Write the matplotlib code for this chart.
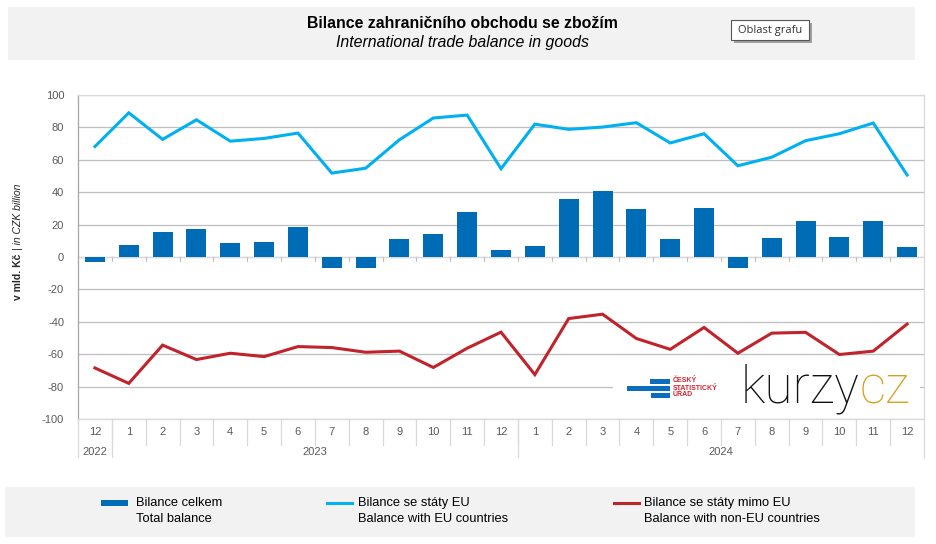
import matplotlib
matplotlib.use('Agg')
import matplotlib.pyplot as plt
from matplotlib.patches import Rectangle
from matplotlib.transforms import blended_transform_factory
import numpy as np

plt.rcParams['font.family'] = ['Liberation Sans', 'DejaVu Sans']
plt.rcParams['axes.unicode_minus'] = False

# data
months = ['12', '1', '2', '3', '4', '5', '6', '7', '8', '9', '10', '11', '12',
          '1', '2', '3', '4', '5', '6', '7', '8', '9', '10', '11', '12']
years = ['2022', '2023', '2024']
year_len = [1, 12, 12]

total = [-3.2, 7.6, 15.2, 17.0, 8.8, 9.5, 18.3, -6.9, -6.9, 11.4, 13.9, 27.8, 4.4,
         6.5, 36.0, 40.5, 29.7, 11.4, 30.3, -6.9, 12.0, 22.0, 12.6, 22.0, 6.3]
eu = [68.2, 89.0, 72.6, 84.7, 71.5, 73.2, 76.5, 51.8, 54.8, 72.4, 85.8, 87.6, 54.5,
      82.0, 78.8, 80.2, 82.9, 70.4, 76.1, 56.3, 61.6, 71.8, 76.1, 82.7, 50.6]
non_eu = [-68.5, -78.0, -54.4, -63.3, -59.4, -61.5, -55.3, -55.9, -58.8, -58.1, -68.2, -56.3, -46.4,
          -72.6, -38.0, -35.3, -50.3, -57.0, -43.5, -59.4, -47.0, -46.5, -60.2, -58.1, -41.4]

W, H = 937, 544
fig = plt.figure(figsize=(W / 100, H / 100), dpi=100)


def fx(x):
    return x / W


def fy(y):
    return 1 - y / H


# title box
fig.patches.append(Rectangle((fx(8), fy(60)), fx(915 - 8), (60 - 7) / H,
                             transform=fig.transFigure, facecolor='#f2f2f2', edgecolor='none'))
fig.text(fx(462), fy(24), 'Bilance zahraničního obchodu se zbožím', ha='center', va='center',
         fontsize=11.4, fontweight='bold', color='black')
fig.text(fx(463), fy(43), 'International trade balance in goods', ha='center', va='center',
         fontsize=11.4, style='italic', color='black')

# "Oblast grafu" tooltip
fig.patches.append(Rectangle((fx(734), fy(43)), fx(78), 20 / H, transform=fig.transFigure,
                             facecolor='#a0a0a0', edgecolor='none'))
fig.patches.append(Rectangle((fx(731), fy(40)), fx(78), 20 / H, transform=fig.transFigure,
                             facecolor='white', edgecolor='#555555', linewidth=0.8))
fig.text(fx(770), fy(30), 'Oblast grafu', ha='center', va='center', fontsize=8,
         family=['Open Sans', 'DejaVu Sans'], color='#333333')

# legend box
fig.patches.append(Rectangle((fx(5), fy(537)), fx(910), (537 - 487) / H,
                             transform=fig.transFigure, facecolor='#f2f2f2', edgecolor='none'))

ax = fig.add_axes([fx(78), fy(419), fx(924 - 78), (419 - 95) / H])
x = np.arange(len(months))

ax.bar(x, total, width=0.59, color='#006cb5', zorder=3)
ax.plot(x, eu, color='#00b0f0', linewidth=2.2, zorder=4, solid_joinstyle='miter')
ax.plot(x, non_eu, color='#c0232b', linewidth=2.2, zorder=4, solid_joinstyle='miter')

ax.set_xlim(-0.5, len(months) - 0.5)
ax.set_ylim(-100, 100)
ax.set_yticks(np.arange(-100, 101, 20))
ax.yaxis.grid(True, color='#bfbfbf', linewidth=0.9, zorder=0)
ax.set_axisbelow(True)
ax.tick_params(axis='y', length=0, labelsize=8, labelcolor='#595959', pad=10)
ax.set_xticks([])
for s in ['top', 'right']:
    ax.spines[s].set_color('#d9d9d9')
ax.spines['left'].set_color('#a6a6a6')
ax.spines['bottom'].set_color('#d9d9d9')
for s in ax.spines.values():
    s.set_linewidth(0.9)

# zero axis with small ticks
ax.axhline(0, color='#d9d9d9', linewidth=0.9, zorder=2)
tr = blended_transform_factory(ax.transData, ax.transAxes)
for i in range(1, len(months)):
    ax.plot([i - 0.5, i - 0.5], [0.5, 0.488], transform=tr, color='#bfbfbf', lw=0.8, clip_on=False, zorder=2)

# category axis below
sep_m = 26 / 324
sep_y = 38 / 324
for i, m in enumerate(months):
    ax.text(i, -13 / 324, m, transform=tr, ha='center', va='center', fontsize=8, color='#595959')
for i in range(1, len(months)):
    ax.plot([i - 0.5, i - 0.5], [0, -sep_m], transform=tr, color='#d9d9d9', lw=0.9, clip_on=False)
start = 0
bounds = [-0.5]
for yname, n in zip(years, year_len):
    ax.text(start + (n - 1) / 2, -33 / 324, yname, transform=tr, ha='center', va='center',
            fontsize=8, color='#595959')
    start += n
    bounds.append(start - 0.5)
for b in bounds:
    ax.plot([b, b], [0, -sep_y], transform=tr, color='#d9d9d9', lw=0.9, clip_on=False)

# logo area (white patch hides the grid behind the logos)
ax.add_patch(Rectangle((fx(613), fy(412)), fx(920 - 613), 50 / H, transform=fig.transFigure,
                       facecolor='white', edgecolor='none', zorder=1))
fig.patches.append(Rectangle((fx(650), fy(384)), fx(20), 5 / H, transform=fig.transFigure,
                             facecolor='#0a6ebd', edgecolor='none', zorder=5))
fig.patches.append(Rectangle((fx(627), fy(391)), fx(43), 5 / H, transform=fig.transFigure,
                             facecolor='#0a6ebd', edgecolor='none', zorder=5))
fig.patches.append(Rectangle((fx(651), fy(398)), fx(19), 5 / H, transform=fig.transFigure,
                             facecolor='#0a6ebd', edgecolor='none', zorder=5))
fig.text(fx(673), fy(388), 'ČESKÝ\nSTATISTICKÝ\nÚŘAD', ha='left', va='center', fontsize=5,
         fontweight='bold', color='#d7252f', linespacing=1.0, zorder=6)
tk = fig.text(fx(741), fy(403), 'kurzy', ha='left', va='baseline', fontsize=37,
              family=['Roboto', 'DejaVu Sans'], fontweight='light', color='#111111', zorder=6)

# y label
yb = fig.text(fx(18), fy(300), 'v mld. Kč', rotation=90, rotation_mode='anchor', ha='left', va='center',
              fontsize=7.5, fontweight='bold', color='#262626')

fig.canvas.draw()
bb = tk.get_window_extent()
fig.text(bb.x1 / W, fy(403), 'cz', ha='left', va='baseline', fontsize=37,
         family=['Roboto', 'DejaVu Sans'], fontweight='light', color='#d4a21f', zorder=6)
bl = yb.get_window_extent()
fig.text(fx(18), (bl.y1 + 4) / H, '| in CZK billion', rotation=90, rotation_mode='anchor', ha='left',
         va='center', fontsize=7.5, style='italic', color='#262626')

# legend
items = [(101, 136, 'bar', '#006cb5', 'Bilance celkem', 'Total balance'),
         (327, 358, 'line', '#00b0f0', 'Bilance se státy EU', 'Balance with EU countries'),
         (614, 644, 'line', '#c0232b', 'Bilance se státy mimo EU', 'Balance with non-EU countries')]
for mx, tx, kind, col, l1, l2 in items:
    if kind == 'bar':
        fig.patches.append(Rectangle((fx(mx), fy(506)), fx(27), 6 / H, transform=fig.transFigure,
                                     facecolor=col, edgecolor='none'))
    else:
        fig.lines.append(plt.Line2D([fx(mx), fx(mx + 25)], [fy(503), fy(503)], transform=fig.transFigure,
                                    color=col, linewidth=2.2))
    fig.text(fx(tx), fy(503), l1, ha='left', va='center', fontsize=9.3, color='black')
    fig.text(fx(tx), fy(519), l2, ha='left', va='center', fontsize=9.3, color='black')

fig.savefig('out.png', dpi=100, facecolor='white')
